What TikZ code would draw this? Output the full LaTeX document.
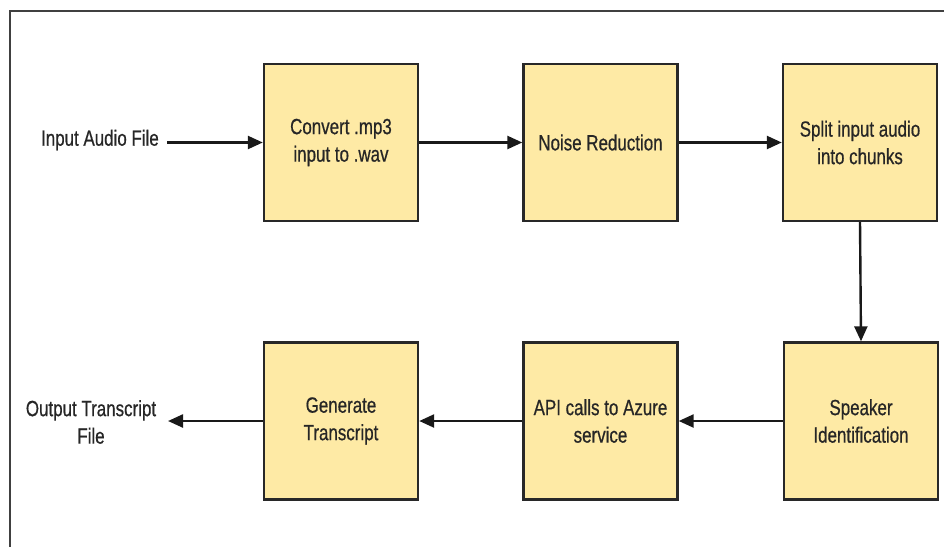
\documentclass[tikz,border=0pt]{standalone}
\usepackage{fontspec}
\setmainfont[FakeStretch=0.77,FakeBold=0.6]{Liberation Sans}
\usetikzlibrary{arrows.meta}
\definecolor{boxfill}{RGB}{254,234,165}
\definecolor{edge}{RGB}{40,40,40}
\begin{document}
\begin{tikzpicture}[x=1pt,y=-1pt,
  proc/.style={draw=edge,line width=2.4pt,fill=boxfill,minimum width=154pt,minimum height=157pt,
    align=center,inner sep=0pt,font=\fontsize{22}{27.5}\selectfont,text=black!85},
  lbl/.style={align=center,font=\fontsize{22}{27.5}\selectfont,text=black!85,inner sep=0pt},
  arr/.style={line width=2.4pt,draw=black!90,-{Triangle[length=15pt,width=13pt]}}]
\useasboundingbox (0,0) rectangle (944,546);
\draw[line width=2.4pt,draw=black!75] (10,560) -- (10,11) -- (960,11);
\node[proc] (b1) at (341,142.5) {Convert .mp3\\input to .wav};
\node[proc] (b2) at (600.5,142.5) {Noise Reduction};
\node[proc] (b3) at (860,142.5) {Split input audio\\into chunks};
\node[proc] (b4) at (861,421) {Speaker\\Identification};
\node[proc] (b5) at (600.5,421) {API calls to Azure\\service};
\node[proc] (b6) at (341,421) {Generate\\Transcript};
\node[lbl,anchor=east] (in) at (159,140) {Input Audio File};
\node[lbl] (out) at (91,422) {Output Transcript\\File};
\coordinate (inend) at (167,142.5);
\coordinate (outend) at (168,421);
\draw[arr] (inend) -- (b1.west);
\draw[arr] (b1.east) -- (b2.west);
\draw[arr] (b2.east) -- (b3.west);
\draw[arr] (b3.south) -- (b4.north);
\draw[arr] (b4.west) -- (b5.east);
\draw[arr] (b5.west) -- (b6.east);
\draw[arr] (b6.west) -- (outend);
\end{tikzpicture}
\end{document}
